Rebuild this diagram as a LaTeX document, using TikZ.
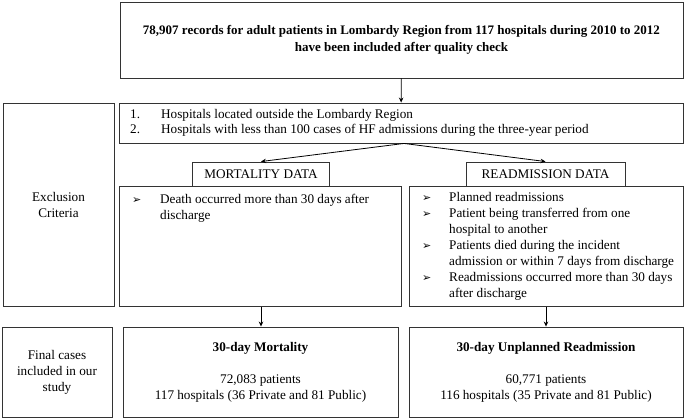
\documentclass[tikz,border=0pt]{standalone}
\usepackage{fontspec}
\setmainfont{Liberation Serif}
\newfontfamily\arrowfont{DejaVu Sans}
\usetikzlibrary{arrows.meta}
\newcommand{\txt}{\fontsize{13.2}{16}\selectfont}
\newcommand{\bul}{{\arrowfont\fontsize{11}{11}\selectfont ➢}}

\begin{document}
\begin{tikzpicture}[x=1pt, y=-1pt,
  box/.style={draw=black!80, line width=0.9pt, inner sep=0pt, align=center, font=\txt},
  list/.style={anchor=base west, inner sep=0pt, font=\txt},
  arr/.style={-{Stealth[length=5pt, width=4.5pt]}, line width=0.8pt}]
  \useasboundingbox (0,0) rectangle (685,419);
  % Top box
  \node[box, minimum width=563, minimum height=76, font=\fontsize{13}{17}\selectfont\bfseries] (top) at (401.5,40)
    {78,907 records for adult patients in Lombardy Region from 117 hospitals during 2010 to 2012\\
     have been included after quality check};
  % Left column
  \node[box, minimum width=111, minimum height=203] (excl) at (58.5,204.5) {Exclusion\\Criteria};
  \node[box, minimum width=110, minimum height=90] (final) at (57,372) {Final cases\\included in our\\study};
  % Hospital criteria
  \node[box, minimum width=564, minimum height=40] (crit) at (401,123) {};
  \node[list] (critlist) at (130,119) {\fontsize{13.2}{15}\selectfont
    \begin{tabular}[t]{@{}p{31pt}@{}l@{}}
      1. & Hospitals located outside the Lombardy Region\\
      2. & Hospitals with less than 100 cases of HF admissions during the three-year period
    \end{tabular}};
  % Data labels
  \node[box, minimum width=137, minimum height=24] (mortlab) at (261,174) {MORTALITY DATA};
  \node[box, minimum width=159, minimum height=24] (readlab) at (545.5,174) {READMISSION DATA};
  % Exclusion boxes
  \node[box, minimum width=282, minimum height=120, anchor=north west] (mortex) at (119,186) {};
  \node[box, minimum width=274, minimum height=120, anchor=north west] (readex) at (409,186) {};
  \node[list] (mortlist) at (132,204) {
    \begin{tabular}[t]{@{}p{28pt}@{}l@{}}
      \bul & Death occurred more than 30 days after\\
           & discharge
    \end{tabular}};
  \node[list] (readlist) at (422,202) {
    \begin{tabular}[t]{@{}p{27pt}@{}l@{}}
      \bul & Planned readmissions\\
      \bul & Patient being transferred from one\\
           & hospital to another\\
      \bul & Patients died during the incident\\
           & admission or within 7 days from discharge\\
      \bul & Readmissions occurred more than 30 days\\
           & after discharge
    \end{tabular}};
  % Final boxes
  \node[box, minimum width=275, minimum height=90] (mortfin) at (260.5,372)
    {\textbf{30-day Mortality}\\[16pt] 72,083 patients\\ 117 hospitals (36 Private and 81 Public)};
  \node[box, minimum width=274, minimum height=90] (readfin) at (546,372)
    {\textbf{30-day Unplanned Readmission}\\[16pt] 60,771 patients\\ 116 hospitals (35 Private and 81 Public)};
  % Arrows
  \draw[arr] (top) -- (crit);
  \draw[arr] ([xshift=3pt]crit.south) -- (mortlab.north);
  \draw[arr] ([xshift=3pt]crit.south) -- (readlab.north);
  \draw[arr] (mortex.south -| mortlab.south) -- (mortfin.north -| mortlab.south);
  \draw[arr] (readex.south -| readfin.north) -- (readfin.north);
\end{tikzpicture}
\end{document}
